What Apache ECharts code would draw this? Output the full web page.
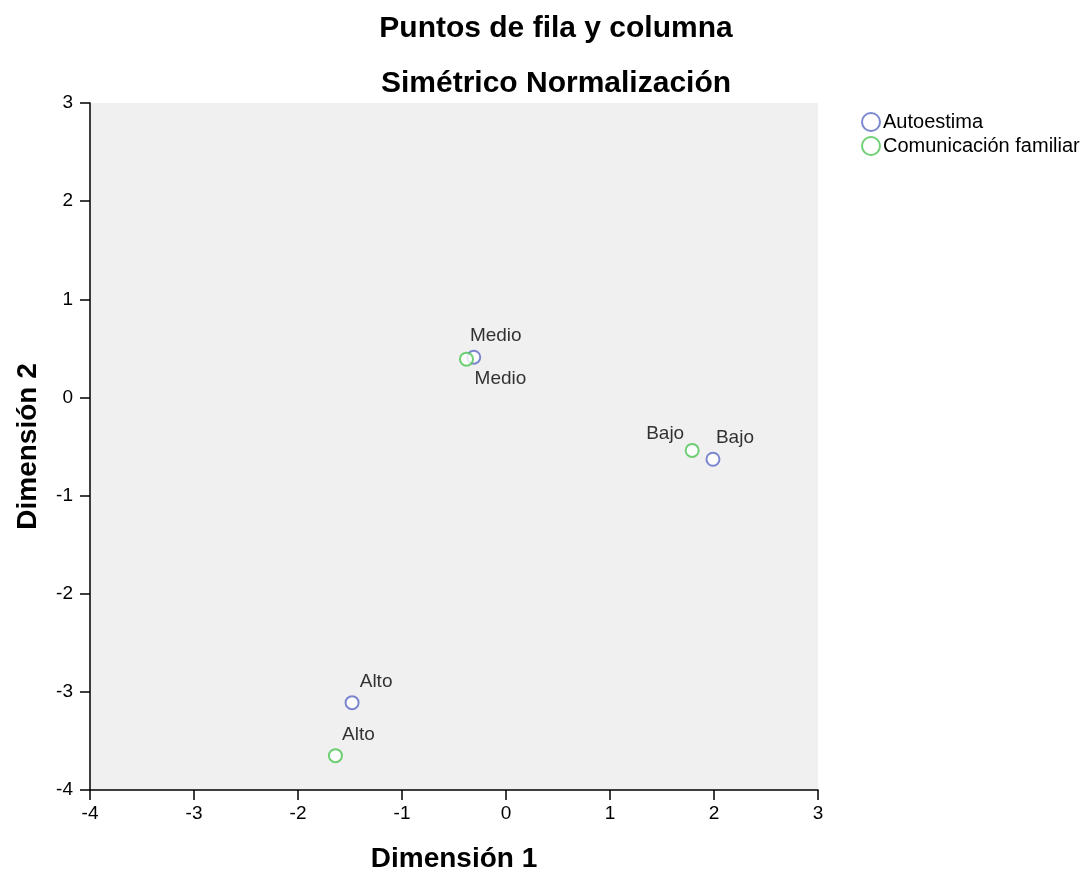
<!DOCTYPE html>
<html>
<head>
<meta charset="utf-8">
<script src="https://cdn.jsdelivr.net/npm/echarts@6/dist/echarts.min.js"></script>
<style>html,body{margin:0;padding:0;background:#fff}#c{width:1084px;height:872px}</style>
</head>
<body>
<div id="c"></div>
<script>
const categories = ['Alto', 'Medio', 'Bajo'];
const autoestimaX = [-1.48, -0.31, 1.99];
const autoestimaY = [-3.11, 0.41, -0.63];
const comunicacionX = [-1.64, -0.38, 1.79];
const comunicacionY = [-3.65, 0.39, -0.54];
const xTicks = [-4, -3, -2, -1, 0, 1, 2, 3];
const yTicks = [-4, -3, -2, -1, 0, 1, 2, 3];

const autoOffsets = [[24, -21], [22, -21], [22, -21]];
const comOffsets = [[23, -21], [34, 20], [-27, -17]];

const chart = echarts.init(document.getElementById('c'));
const font = 'Liberation Sans, Arial, sans-serif';
function build(xs, ys, offs) {
  return categories.map((c, i) => ({
    value: [xs[i], ys[i]],
    name: c,
    label: { show: true, position: 'inside', offset: offs[i], formatter: c, color: '#000' }
  }));
}
chart.setOption({
  animation: false,
  backgroundColor: '#fff',
  title: [
    {
      text: 'Puntos de fila y columna',
      left: 551, top: 9, textAlign: 'center',
      textStyle: { fontFamily: font, fontWeight: 'bold', fontSize: 30, color: '#000', lineHeight: 30 }
    },
    {
      text: 'Simétrico Normalización',
      left: 551, top: 64, textAlign: 'center',
      textStyle: { fontFamily: font, fontWeight: 'bold', fontSize: 30, color: '#000', lineHeight: 30 }
    }
  ],
  legend: {
    orient: 'vertical', left: 856, top: 107, itemWidth: 18, itemHeight: 18, itemGap: 4,
    textStyle: { fontFamily: font, fontSize: 20, color: '#000', padding: [0,0,0,-2] },
    data: [
      { name: 'Autoestima', icon: 'emptyCircle' },
      { name: 'Comunicación familiar', icon: 'emptyCircle' }
    ]
  },
  grid: { left: 90, right: 266, top: 103, bottom: 82, show: true, backgroundColor: '#f0f0f0', borderWidth: 0,
          containLabel: false, outerBoundsMode: 'none' },
  xAxis: {
    type: 'value', min: -4, max: 3, interval: 1,
    name: 'Dimensión 1', nameLocation: 'middle', nameGap: 55,
    nameTextStyle: { fontFamily: font, fontWeight: 'bold', fontSize: 28, color: '#000' },
    axisLine: { show: true, onZero: false, lineStyle: { color: '#000', width: 1.5 } },
    axisTick: { show: true, length: 10, lineStyle: { color: '#000', width: 1.5 } },
    axisLabel: { fontFamily: font, fontSize: 19, color: '#000', margin: 14,
      formatter: v => xTicks.includes(v) ? String(v) : '' },
    splitLine: { show: false }
  },
  yAxis: {
    type: 'value', min: -4, max: 3, interval: 1,
    name: 'Dimensión 2', nameLocation: 'middle', nameGap: 48,
    nameTextStyle: { fontFamily: font, fontWeight: 'bold', fontSize: 28, color: '#000' },
    axisLine: { show: true, onZero: false, lineStyle: { color: '#000', width: 1.5 } },
    axisTick: { show: true, length: 10, lineStyle: { color: '#000', width: 1.5 } },
    axisLabel: { fontFamily: font, fontSize: 19, color: '#000', margin: 17,
      formatter: v => yTicks.includes(v) ? String(v) : '' },
    splitLine: { show: false }
  },
  series: [
    {
      name: 'Autoestima', type: 'scatter', symbol: 'emptyCircle', symbolSize: 13,
      itemStyle: { color: '#5b6cc4', borderColor: '#5b6cc4', borderWidth: 1.6 },
      label: { fontFamily: font, fontSize: 19, color: '#000' },
      data: build(autoestimaX, autoestimaY, autoOffsets)
    },
    {
      name: 'Comunicación familiar', type: 'scatter', symbol: 'emptyCircle', symbolSize: 13,
      itemStyle: { color: '#4cc454', borderColor: '#4cc454', borderWidth: 1.6 },
      label: { fontFamily: font, fontSize: 19, color: '#000' },
      data: build(comunicacionX, comunicacionY, comOffsets)
    }
  ]
});
</script>
</body>
</html>
